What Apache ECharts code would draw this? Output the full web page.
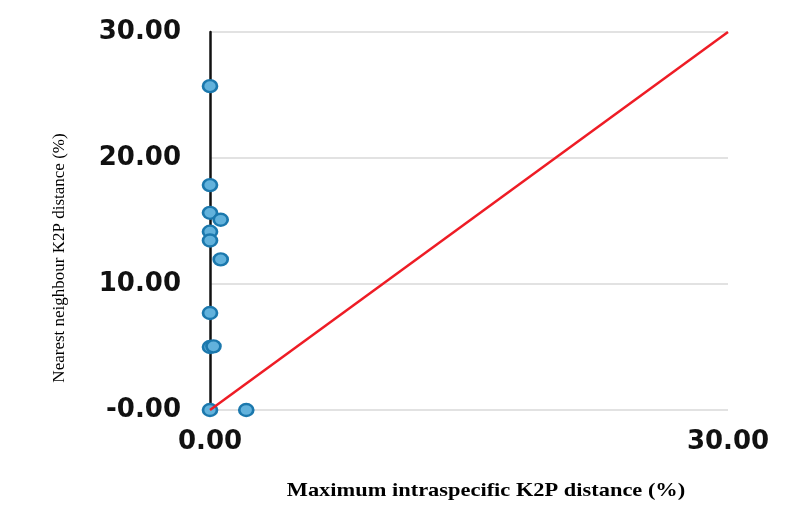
<!DOCTYPE html>
<html>
<head>
<meta charset="utf-8">
<script src="https://cdn.jsdelivr.net/npm/echarts@6/dist/echarts.min.js"></script>
<style>
  html, body { margin: 0; padding: 0; background: #fff; }
  #chart { width: 790px; height: 509px; }
</style>
</head>
<body>
<div id="chart"></div>
<script>
// max intraspecific distance (x) vs nearest neighbour distance (y), %
const maxIntra = [0, 0, 0, 0.62, 0, 0, 0.62, 0, 0, 0.2, 0, 2.1]
const nearestNb = [25.7, 17.85, 15.65, 15.1, 14.15, 13.45, 11.95, 7.7, 5.0, 5.05, 0, 0]
const refLine = [[0, 0], [30, 30]]
const xTicks = [0, 30]
const yTicks = [0, 10, 20, 30]

const points = maxIntra.map((x, i) => [x, nearestNb[i]])

const dom = echarts.init(document.getElementById('chart'))

const tickFmt = v => (v === 0 ? '-0.00' : v.toFixed(2))

const option = {
    animation: false,
    grid: { left: 210, right: 62, top: 32, bottom: 99 },
    xAxis: {
        type: 'value',
        min: xTicks[0],
        max: xTicks[xTicks.length - 1],
        interval: 30,
        axisLine: { show: false },
        axisTick: { show: false },
        splitLine: { show: false },
        axisLabel: {
            margin: 19,
            color: '#111',
            fontFamily: 'DejaVu Sans',
            fontWeight: 'bold',
            fontSize: 26,
            formatter: v => v.toFixed(2)
        }
    },
    yAxis: {
        type: 'value',
        min: yTicks[0],
        max: yTicks[yTicks.length - 1],
        interval: 10,
        axisLine: { show: true, onZero: false, lineStyle: { color: '#111', width: 2.5 } },
        axisTick: { show: false },
        splitLine: { lineStyle: { color: '#e2e2e2', width: 2 } },
        axisLabel: {
            margin: 29,
            color: '#111',
            fontFamily: 'DejaVu Sans',
            fontWeight: 'bold',
            fontSize: 26,
            formatter: tickFmt
        }
    },
    graphic: [
        {
            type: 'text',
            x: 60, y: 258,
            rotation: Math.PI / 2,
            style: {
                text: 'Nearest neighbour K2P distance (%)',
                font: '17px "Liberation Serif"',
                fill: '#000',
                align: 'center',
                verticalAlign: 'middle'
            }
        },
        {
            type: 'text',
            x: 486, y: 491,
            scaleX: 1.18,
            style: {
                text: 'Maximum intraspecific K2P distance (%)',
                font: 'bold 19px "Liberation Serif"',
                fill: '#000',
                align: 'center',
                verticalAlign: 'middle'
            }
        }
    ],
    series: [
        {
            type: 'line',
            data: refLine,
            symbol: 'none',
            lineStyle: { color: '#ee1c25', width: 2.5 },
            z: 3
        },
        {
            type: 'scatter',
            data: points,
            symbol: 'circle',
            symbolSize: [14, 12],
            itemStyle: {
                color: '#62b2dc',
                borderColor: '#1b78ad',
                borderWidth: 2.5,
                opacity: 1
            },
            z: 2
        }
    ]
}

dom.setOption(option)
</script>
</body>
</html>
